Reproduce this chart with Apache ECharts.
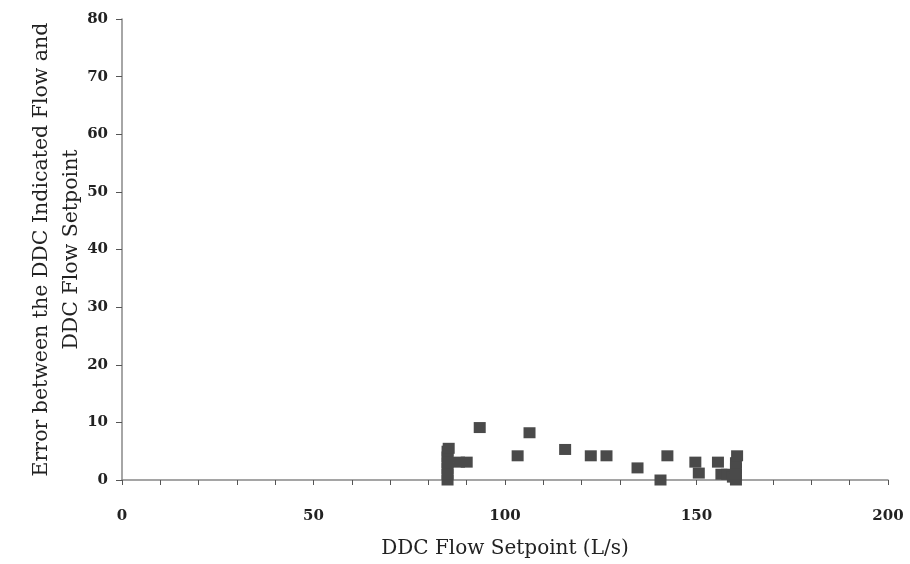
<!DOCTYPE html>
<html><head><meta charset="utf-8">
<script src="https://cdn.jsdelivr.net/npm/echarts@6/dist/echarts.min.js"></script>
<style>html,body{margin:0;padding:0;background:#fff}#c{width:910px;height:564px}</style>
</head><body><div id="c"></div>
<script>
const xValues = [85,85,85,85,85,85,85.3, 88,90, 93.4, 103.3, 106.4, 115.7, 122.4, 126.5, 134.6, 140.6, 142.4, 149.7, 150.6, 155.6, 156.5, 158, 159.5,160.3,160.3,160.3,160.3,160.6];
const yValues = [0,1,2,3,4,5,5.5, 3.1,3.1, 9.1, 4.2, 8.2, 5.3, 4.2, 4.2, 2.1, 0, 4.2, 3.1, 1.2, 3.1, 1, 1, 0.5,0,1,2,3,4.2];
const xTicks = [0,50,100,150,200];
const yTicks = [0,10,20,30,40,50,60,70,80];
const points = xValues.map((x,i)=>[x,yValues[i]]);
const font = 'DejaVu Serif';
const chart = echarts.init(document.getElementById('c'));
chart.setOption({
  animation:false,
  grid:{left:122,right:22,top:19,bottom:83},
  xAxis:{type:'value',min:0,max:200,interval:10,
    name:'DDC Flow Setpoint (L/s)',nameLocation:'middle',nameGap:59,nameMoveOverlap:false,
    nameTextStyle:{fontFamily:font,fontSize:20,color:'#222'},
    axisLine:{show:true,lineStyle:{color:'#888',width:1.5}},
    axisTick:{show:true,length:5,lineStyle:{color:'#555'}},
    splitLine:{show:false},
    axisLabel:{margin:29,fontFamily:font,fontSize:15,fontWeight:'bold',color:'#222',
      formatter:v=>xTicks.indexOf(v)>=0?String(v):''}
  },
  yAxis:{type:'value',min:0,max:80,interval:10,
    name:'Error between the DDC Indicated Flow and\nDDC Flow Setpoint',nameLocation:'middle',nameGap:35,nameRotate:90,nameMoveOverlap:false,
    nameTextStyle:{fontFamily:font,fontSize:20.5,color:'#222',lineHeight:30},
    axisLine:{show:true,lineStyle:{color:'#888',width:1.5}},
    axisTick:{show:true,length:6,lineStyle:{color:'#555'}},
    splitLine:{show:false},
    axisLabel:{margin:14,fontFamily:font,fontSize:15,fontWeight:'bold',color:'#222',
      formatter:v=>yTicks.indexOf(v)>=0?String(v):''}
  },
  series:[{type:'scatter',data:points,symbol:'rect',symbolSize:[12,11],
    itemStyle:{color:'#4a4a4a',opacity:1}}]
});
</script></body></html>
